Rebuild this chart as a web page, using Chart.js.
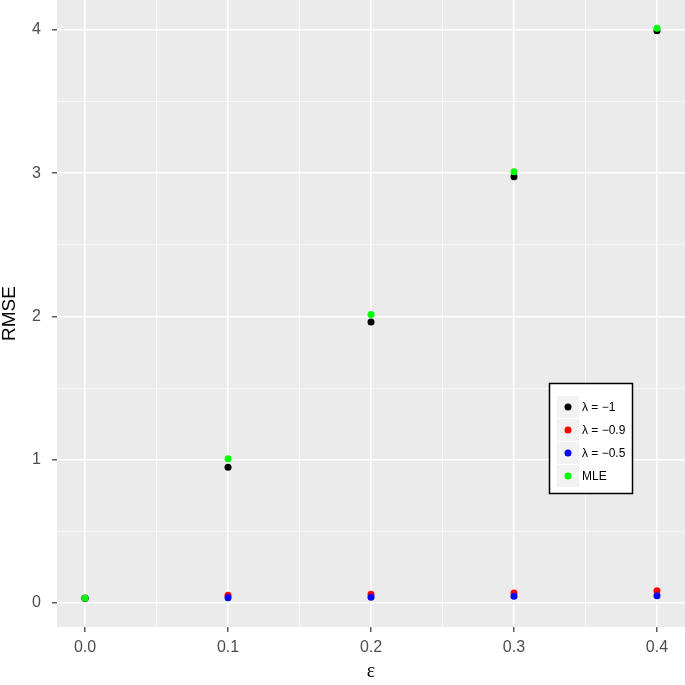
<!DOCTYPE html>
<html>
<head>
<meta charset="utf-8">
<script src="https://cdn.jsdelivr.net/npm/chart.js@4"></script>
<style>
html,body{margin:0;padding:0;background:#fff;}
#wrap{width:685px;height:685px;}
</style>
</head>
<body>
<div id="wrap"><canvas id="c" width="685" height="685"></canvas></div>
<script>
// ---- data ----
const epsilon = [0.0, 0.1, 0.2, 0.3, 0.4];
const rmseLambdaMinus1 = [0.033, 0.947, 1.962, 2.976, 3.995];
const rmseLambdaMinus09 = [0.033, 0.054, 0.061, 0.070, 0.086];
const rmseLambdaMinus05 = [0.033, 0.037, 0.040, 0.047, 0.051];
const rmseMLE = [0.033, 1.007, 2.013, 3.011, 4.012];
const seriesLabels = ["\u03BB = \u22121", "\u03BB = \u22120.9", "\u03BB = \u22120.5", "MLE"];
const xMajorTicks = [0.0, 0.1, 0.2, 0.3, 0.4];
const xMinorTicks = [0.05, 0.15, 0.25, 0.35];
const yMajorTicks = [0, 1, 2, 3, 4];
const yMinorTicks = [0.5, 1.5, 2.5, 3.5];

function pts(ys){ return epsilon.map((x,i)=>({x:x, y:ys[i]})); }
function isMajor(list, v){ return list.some(m => Math.abs(m - v) < 1e-9); }
function noPad(scale){ scale.paddingTop = 0; scale.paddingBottom = 0; scale.paddingLeft = 0; scale.paddingRight = 0; }

const panelBg = {
  id:'panelBg',
  beforeDraw(chart){
    const {ctx, chartArea:a} = chart;
    ctx.save();
    ctx.fillStyle = '#EBEBEB';
    ctx.fillRect(a.left, a.top, a.right - a.left, a.bottom - a.top);
    ctx.restore();
  }
};

const ggLegend = {
  id:'ggLegend',
  afterDraw(chart){
    const ctx = chart.ctx;
    ctx.save();
    const bx = 549.5, by = 383.5, bw = 83, bh = 110;
    ctx.fillStyle = '#FFFFFF';
    ctx.fillRect(bx, by, bw, bh);
    ctx.lineWidth = 1.5;
    ctx.strokeStyle = '#000000';
    ctx.strokeRect(bx, by, bw, bh);
    chart.data.datasets.forEach((ds, i) => {
      const top = 396 + i * 23;
      ctx.fillStyle = '#F2F2F2';
      ctx.fillRect(557, top, 22, 22);
      ctx.beginPath();
      ctx.arc(568, top + 11, 3.5, 0, Math.PI * 2);
      ctx.fillStyle = ds.backgroundColor;
      ctx.fill();
      ctx.fillStyle = '#000000';
      ctx.font = '12px "Liberation Sans", Arial, sans-serif';
      ctx.textAlign = 'left';
      ctx.textBaseline = 'middle';
      ctx.fillText(ds.label, 582, top + 11.5);
    });
    ctx.restore();
  }
};

const colors = ['#000000', '#FF0000', '#0000FF', '#00FF00'];
const seriesValues = [rmseLambdaMinus1, rmseLambdaMinus09, rmseLambdaMinus05, rmseMLE];

new Chart(document.getElementById('c'), {
  type: 'scatter',
  data: {
    datasets: seriesValues.map((vals, i) => ({
      label: seriesLabels[i],
      data: pts(vals),
      backgroundColor: colors[i],
      borderWidth: 0,
      pointRadius: 3.5,
      pointHoverRadius: 3.5,
      order: 4 - i
    }))
  },
  options: {
    responsive: false,
    animation: false,
    devicePixelRatio: 1,
    layout: { padding: 0, autoPadding: false },
    plugins: { legend: { display: false }, tooltip: { enabled: false } },
    scales: {
      x: {
        type: 'linear',
        min: -0.0196,
        max: 0.4196,
        afterBuildTicks(scale){
          scale.ticks = xMajorTicks.concat(xMinorTicks).sort((a,b)=>a-b).map(v => ({value: v}));
        },
        afterFit(scale){ scale.height = 58; noPad(scale); },
        border: { display: false },
        grid: {
          color: '#FFFFFF',
          lineWidth: c => isMajor(xMajorTicks, c.tick.value) ? 1.6 : 0.7,
          drawTicks: true,
          tickLength: 5,
          tickWidth: 1.2,
          tickColor: c => isMajor(xMajorTicks, c.tick.value) ? '#333333' : 'rgba(0,0,0,0)'
        },
        ticks: {
          autoSkip: false,
          maxRotation: 0,
          padding: 6,
          color: '#4D4D4D',
          font: { family: '"Liberation Sans", Arial, sans-serif', size: 16 },
          callback: v => isMajor(xMajorTicks, v) ? v.toFixed(1) : ''
        },
        title: {
          display: true,
          text: '\u03B5',
          color: '#000000',
          padding: { top: 0, bottom: 1 },
          font: { family: '"Liberation Serif", "DejaVu Serif", serif', size: 20 }
        }
      },
      y: {
        type: 'linear',
        min: -0.1675,
        max: 4.209,
        afterBuildTicks(scale){
          scale.ticks = yMajorTicks.concat(yMinorTicks).sort((a,b)=>a-b).map(v => ({value: v}));
        },
        afterFit(scale){ scale.width = 57; noPad(scale); },
        border: { display: false },
        grid: {
          color: '#FFFFFF',
          lineWidth: c => isMajor(yMajorTicks, c.tick.value) ? 1.6 : 0.7,
          drawTicks: true,
          tickLength: 5,
          tickWidth: 1.2,
          tickColor: c => isMajor(yMajorTicks, c.tick.value) ? '#333333' : 'rgba(0,0,0,0)'
        },
        ticks: {
          autoSkip: false,
          padding: 11,
          color: '#4D4D4D',
          font: { family: '"Liberation Sans", Arial, sans-serif', size: 16 },
          callback: v => isMajor(yMajorTicks, v) ? String(Math.round(v)) : ''
        },
        title: {
          display: true,
          text: 'RMSE',
          color: '#000000',
          padding: { top: 0, bottom: 0 },
          font: { family: '"Liberation Sans", Arial, sans-serif', size: 19, lineHeight: 1.05 }
        }
      }
    }
  },
  plugins: [panelBg, ggLegend]
});
</script>
</body>
</html>
